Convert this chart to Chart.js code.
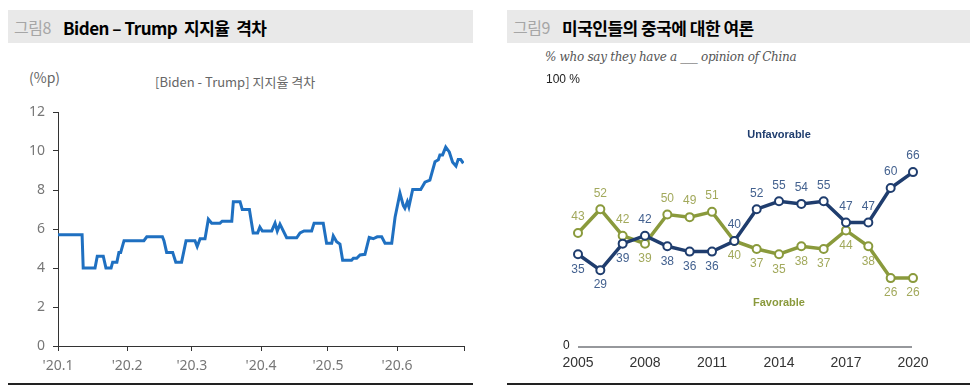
<!DOCTYPE html>
<html>
<head>
<meta charset="utf-8">
<script src="https://cdn.jsdelivr.net/npm/chart.js@4/dist/chart.umd.min.js"></script>
<style>
  body { margin: 0; background: #fff; width: 970px; height: 389px; position: relative; overflow: hidden; font-family: "Noto Sans CJK KR", "Noto Sans", sans-serif; }
  .bar { position: absolute; top: 10px; height: 33px; background: #e9e9e9; }
  .bar span { position: absolute; top: 5px; font-size: 17px; font-weight: bold; letter-spacing: -0.5px; }
  .bar .fig { color: #a6a6a6; font-weight: normal; font-size: 16px; }
  .rule { position: absolute; top: 383px; height: 2px; background: #222; }
  .txt { position: absolute; white-space: nowrap; }
  canvas { position: absolute; }
</style>
</head>
<body>
<div class="bar" style="left:8px;width:465px"><span class="fig" style="left:6px">그림8</span><span style="left:55px">Biden – Trump &nbsp;지지율 &nbsp;격차</span></div>
<div class="bar" style="left:507px;width:463px"><span class="fig" style="left:6px">그림9</span><span style="left:55px">미국인들의 중국에 대한 여론</span></div>
<div class="rule" style="left:8px;width:465px"></div>
<div class="rule" style="left:507px;width:463px"></div>

<div class="txt" style="left:29px;top:67px;font-size:14px;color:#666">(%p)</div>
<div class="txt" style="left:155px;top:72px;font-size:13px;color:#666">[Biden - Trump] 지지율 격차</div>
<div class="txt" style="left:545px;top:50px;font-size:12px;color:#555;font-style:italic;font-family:'DejaVu Serif',serif;letter-spacing:-0.3px">% who say they have a ___ opinion of China</div>

<canvas id="gap" width="485" height="289" style="left:0;top:95px"></canvas>
<canvas id="china" width="485" height="324" style="left:485px;top:60px"></canvas>

<script>
// ---- 그림8 data: Biden - Trump gap (day of 2020, %p)
const monthLabels = ["'20.1", "'20.2", "'20.3", "'20.4", "'20.5", "'20.6", ""];
const monthStart = [0, 31, 60, 91, 121, 152, 182];
const gapDay = [0, 10.8, 11.3, 16.6, 17.6, 20.3, 21.5, 23.8, 24.5, 26.4, 27.3, 28.1, 29.6, 38.5, 39.8, 46.8, 47.5, 48.7, 51.4, 52.8,
  55.4, 57.4, 61.4, 62.4, 63.7, 65.9, 67.4, 68.9, 72.6, 73.6, 77.9, 78.6, 81.6, 82.6, 85.8, 87.5, 89.5, 90.5, 91.6, 95.8,
  97.3, 98.3, 99.5, 102.5, 107, 108.5, 110.3, 113.7, 114.8, 118.9, 120.4, 122.7, 123.4, 124.9, 126.4, 127.6, 131.6, 132.4, 133.9, 135.4,
  137.6, 139.5, 141.3, 143.1, 145.1, 146.6, 149.6, 151.1, 153.3, 154.8, 155.5, 156.6, 157.3, 159, 162.6, 164.5, 166.7, 169, 170.5, 171.2,
  172.4, 173.8, 175.4, 176.9, 178.4, 179.4, 180.5, 181.7];
const gapValue = [5.7, 5.7, 4.0, 4.0, 4.6, 4.6, 4.0, 4.0, 4.3, 4.3, 4.8, 4.8, 5.4, 5.4, 5.6, 5.6, 5.4, 4.8, 4.8, 4.3,
  4.3, 5.4, 5.4, 5.1, 5.5, 5.5, 6.5, 6.3, 6.3, 6.4, 6.4, 7.4, 7.4, 7.0, 7.0, 5.8, 5.8, 6.1, 5.9, 5.9,
  6.3, 5.9, 6.25, 5.55, 5.55, 5.8, 5.9, 5.9, 6.3, 6.3, 5.27, 5.27, 5.65, 5.35, 5.23, 4.4, 4.4, 4.5, 4.5, 4.67,
  4.7, 5.57, 5.5, 5.6, 5.6, 5.27, 5.27, 6.6, 7.83, 7.2, 7.06, 7.4, 7.14, 8.03, 8.03, 8.4, 8.5, 9.45, 9.55, 9.8,
  9.8, 10.2, 9.95, 9.42, 9.23, 9.57, 9.57, 9.37];

// ---- 그림9 data: Pew, opinion of China
const years = [2005, 2006, 2007, 2008, 2009, 2010, 2011, 2012, 2013, 2014, 2015, 2016, 2017, 2018, 2019, 2020];
const unfavorable = [35, 29, 39, 42, 38, 36, 36, 40, 52, 55, 54, 55, 47, 47, 60, 66];
const favorable = [43, 52, 42, 39, 50, 49, 51, 40, 37, 35, 38, 37, 44, 38, 26, 26];
const unfavSide = ['b','b','b','a','b','b','b','a','a','a','a','a','a','a','a','a'];
const favSide = ['a','a','a','b','a','a','a','b','b','b','b','b','b','b','b','b'];

const NAVY = '#1f3d6e', OLIVE = '#8a9a3c';
const tickFont = { family: "'Noto Sans', sans-serif", size: 14 };

new Chart(document.getElementById('gap'), {
  type: 'line',
  data: {
    datasets: [{
      data: gapDay.map((d, i) => ({ x: d, y: gapValue[i] })),
      borderColor: '#1f70c1',
      borderWidth: 3,
      pointRadius: 0,
      tension: 0
    }]
  },
  options: {
    responsive: false,
    animation: false,
    devicePixelRatio: 1,
    layout: { padding: { top: 17, right: 21, left: 0, bottom: 0 } },
    plugins: { legend: { display: false }, tooltip: { enabled: false } },
    scales: {
      x: {
        type: 'linear', min: 0, max: 182,
        afterBuildTicks: s => { s.ticks = monthStart.map(v => ({ value: v })); },
        afterFit: s => { s.height = 38; },
        ticks: { color: '#777', font: tickFont, padding: 7, maxRotation: 0,
          callback: (v) => monthLabels[monthStart.indexOf(v)] },
        grid: { drawOnChartArea: false, color: '#333', tickLength: 5 },
        border: { color: '#333', width: 1 }
      },
      y: {
        min: 0, max: 12,
        afterFit: s => { s.width = 58; },
        ticks: { stepSize: 2, color: '#777', font: tickFont, padding: 8 },
        grid: { drawOnChartArea: false, color: '#333', tickLength: 5 },
        border: { color: '#333', width: 1 }
      }
    }
  }
});

const pewLabels = {
  id: 'pewLabels',
  afterDraw(chart) {
    const ctx = chart.ctx;
    const xs = chart.scales.x, ys = chart.scales.y;
    const x0 = xs.getPixelForValue(2005), x1 = xs.getPixelForValue(2020);
    const y0 = ys.getPixelForValue(0);
    ctx.save();
    // zero baseline
    ctx.strokeStyle = 'rgb(150,152,156)';
    ctx.lineWidth = 2;
    ctx.beginPath();
    ctx.moveTo(x0, y0);
    ctx.lineTo(x1 - 1, y0);
    ctx.stroke();

    ctx.fillStyle = '#222';
    ctx.font = '12px "Liberation Sans", Arial, sans-serif';
    ctx.textAlign = 'left';
    ctx.textBaseline = 'middle';
    ctx.fillText('100 %', x0 - 32, ys.getPixelForValue(100) - 2);
    ctx.fillText('0', x0 - 15, y0 - 1);

    ctx.textAlign = 'center';
    ctx.font = 'bold 11px "Liberation Sans", Arial, sans-serif';
    ctx.fillStyle = NAVY;
    ctx.fillText('Unfavorable', xs.getPixelForValue(2014), ys.getPixelForValue(80));
    ctx.fillStyle = OLIVE;
    ctx.fillText('Favorable', xs.getPixelForValue(2014), ys.getPixelForValue(16.5));

    ctx.font = '12px "Liberation Sans", Arial, sans-serif';
    const sides = [unfavSide, favSide];
    const colors = ['#43618f', '#a2a95c'];
    chart.data.datasets.forEach((ds, i) => {
      chart.getDatasetMeta(i).data.forEach((pt, j) => {
        ctx.fillStyle = colors[i];
        const dy = sides[i][j] === 'a' ? -16 : 15;
        ctx.fillText(String(ds.data[j]), pt.x, pt.y + dy);
      });
    });
    ctx.restore();
  }
};

new Chart(document.getElementById('china'), {
  type: 'line',
  data: {
    labels: years,
    datasets: [
      { data: unfavorable, borderColor: NAVY, pointBorderColor: NAVY },
      { data: favorable, borderColor: OLIVE, pointBorderColor: OLIVE }
    ].map(d => Object.assign(d, {
      borderWidth: 3.5, pointRadius: 4, pointBorderWidth: 2,
      pointBackgroundColor: '#fff', tension: 0
    }))
  },
  options: {
    responsive: false,
    animation: false,
    devicePixelRatio: 1,
    clip: false,
    layout: { padding: { top: 22, right: 57, left: 93, bottom: 0 } },
    plugins: { legend: { display: false }, tooltip: { enabled: false } },
    scales: {
      x: {
        type: 'linear', min: 2005, max: 2020,
        afterBuildTicks: s => { s.ticks = years.filter(y => (y - 2005) % 3 === 0).map(v => ({ value: v })); },
        afterFit: s => { s.height = 37; },
        ticks: { color: '#333', font: { family: '"Liberation Sans", Arial, sans-serif', size: 14 }, padding: 0,
          callback: v => String(v), maxRotation: 0 },
        grid: { display: false },
        border: { display: false }
      },
      y: { display: false, min: 0, max: 100 }
    }
  },
  plugins: [pewLabels]
});
</script>
</body>
</html>
